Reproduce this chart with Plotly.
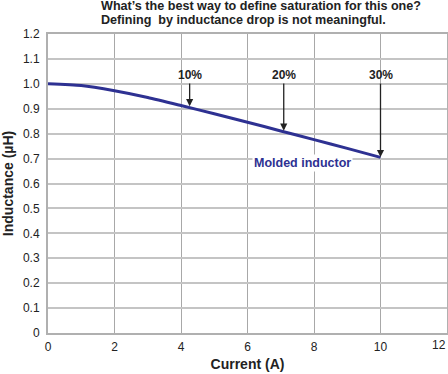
import plotly.graph_objects as go

# Data
current = [0, 1, 2, 3, 4, 5, 6, 7, 8, 9, 10]
inductance = [1.0, 0.993, 0.972, 0.945, 0.913, 0.880, 0.846, 0.811, 0.776, 0.741, 0.705]

drop_labels = ["10%", "20%", "30%"]
drop_current = [4.26, 7.09, 10.0]
drop_inductance = [0.91, 0.812, 0.706]

x_ticks = [0, 2, 4, 6, 8, 10, 12]
x_ticktext = ["0", "2", "4", "6", "8", "10", "12"]
y_ticks = [0, 0.1, 0.2, 0.3, 0.4, 0.5, 0.6, 0.7, 0.8, 0.9, 1.0, 1.1, 1.2]
y_ticktext = ["0", "0.1", "0.2", "0.3", "0.4", "0.5", "0.6", "0.7", "0.8", "0.9", "1.0", "1.1", "1.2"]

title_lines = ["What’s the best way to define saturation for this one?",
               "Defining  by inductance drop is not meaningful."]
series_name = "Molded inductor"

FONT = "Liberation Sans, Arial, Helvetica, sans-serif"
NAVY = "#2e3192"
TXT = "#222222"

W, H = 448, 374
ml, mr, mt, mb = 48, 1, 34, 41
pw = W - ml - mr
ph = H - mt - mb

fig = go.Figure()
fig.add_trace(go.Scatter(
    x=current, y=inductance, mode="lines",
    line=dict(color=NAVY, width=3, shape="spline", smoothing=0.6),
    name=series_name, showlegend=False, hoverinfo="skip"))

annotations = []
for lab, xc, yc in zip(drop_labels, drop_current, drop_inductance):
    annotations.append(dict(
        x=xc, y=yc, xref="x", yref="y",
        ax=xc, ay=1.035, axref="x", ayref="y",
        text="<b>" + lab + "</b>", showarrow=True,
        arrowhead=2, arrowsize=1.1, arrowwidth=1.3, arrowcolor=TXT,
        font=dict(family=FONT, size=12, color=TXT),
        borderpad=0, standoff=0, startstandoff=1))

annotations.append(dict(
    x=7.64, y=0.681, xref="x", yref="y", showarrow=False,
    text="<b>" + series_name + "</b>",
    font=dict(family=FONT, size=12.5, color=NAVY),
    bgcolor="white", borderpad=1))

for line, ypx in zip(title_lines, [6.5, 20.5]):
    annotations.append(dict(
        x=(100 - ml) / pw, y=(H - mb - ypx) / ph, xref="paper", yref="paper",
        xanchor="left", yanchor="middle", borderpad=0,
        showarrow=False, text="<b>" + line + "</b>",
        font=dict(family=FONT, size=12.6, color=TXT)))

# last x tick label sits flush with the right edge of the picture
annotations.append(dict(
    x=1.0, y=0, xref="paper", yref="paper", xanchor="right", yanchor="top",
    yshift=-3, xshift=1, showarrow=False, text=x_ticktext[-1],
    font=dict(family=FONT, size=12, color=TXT)))

fig.update_layout(
    width=W, height=H,
    margin=dict(l=ml, r=mr, t=mt, b=mb, autoexpand=False),
    paper_bgcolor="white", plot_bgcolor="white",
    font=dict(family=FONT, size=12, color=TXT),
    annotations=annotations,
    xaxis=dict(
        range=[0, 12], tickvals=x_ticks, ticktext=x_ticktext[:-1] + [""],
        showgrid=True, gridcolor="#a8a8a8", gridwidth=1,
        showline=True, linecolor="#b0b0b0", linewidth=2, mirror=True,
        ticks="outside", ticklen=2, tickcolor="rgba(0,0,0,0)",
        zeroline=False, fixedrange=True, automargin=False,
        tickfont=dict(size=12, color=TXT),
        title=dict(text="<b>Current (A)</b>", font=dict(size=14, color=TXT), standoff=6)),
    yaxis=dict(
        range=[0, 1.2], tickvals=y_ticks, ticktext=y_ticktext,
        showgrid=True, gridcolor="#c4c4c4", gridwidth=1.5,
        showline=True, linecolor="#b0b0b0", linewidth=2, mirror=True,
        ticks="outside", ticklen=4, tickcolor="rgba(0,0,0,0)",
        zeroline=False, fixedrange=True, automargin=False,
        tickfont=dict(size=12, color=TXT),
        title=dict(text="<b>Inductance (µH)</b>", font=dict(size=14, color=TXT), standoff=8)),
)

fig.write_html("out.html", config={"displayModeBar": False},
               post_script="document.body.style.margin='0';document.body.style.overflow='hidden';")
